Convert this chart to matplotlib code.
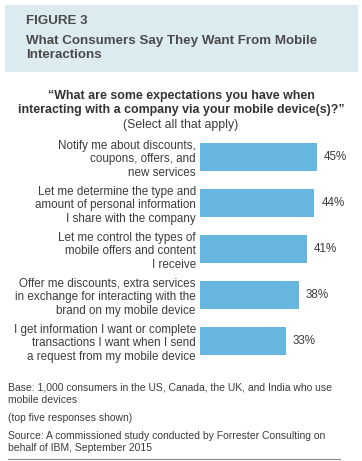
import matplotlib
matplotlib.use('Agg')
import matplotlib.pyplot as plt
import matplotlib.patches as mpatches

plt.rcParams['font.family'] = ['Liberation Sans', 'DejaVu Sans']

# ── Data ──────────────────────────────────────────────────────────────────────
categories = [
    'Notify me about discounts,\ncoupons, offers, and\nnew services',
    'Let me determine the type and\namount of personal information\nI share with the company',
    'Let me control the types of\nmobile offers and content\nI receive',
    'Offer me discounts, extra services\nin exchange for interacting with the\nbrand on my mobile device',
    'I get information I want or complete\ntransactions I want when I send\na request from my mobile device',
]
values = [45, 44, 41, 38, 33]
value_labels = [f'{v}%' for v in values]

# ── Canvas (pixel helpers) ────────────────────────────────────────────────────
W, H = 362, 461
fig = plt.figure(figsize=(W / 100, H / 100), dpi=100)

def P(x, y):
    """pixel (from top-left) -> figure fraction"""
    return x / W, 1 - y / H

TXT = '#3c3c3c'
HEAD = '#4b4b4b'
BAR = '#66b6e0'

# ── Header box ────────────────────────────────────────────────────────────────
fig.patches.append(mpatches.Rectangle(P(5, 72), 353 / W, 67 / H,
                                      transform=fig.transFigure,
                                      fc='#dcebf0', ec='none', zorder=0))
fig.text(*P(26, 21), 'FIGURE 3', fontsize=9.6, fontweight='bold',
         color=HEAD, va='center', ha='left')
fig.text(*P(26, 48), 'What Consumers Say They Want From Mobile\nInteractions',
         fontsize=9.6, fontweight='bold', color=HEAD, va='center', ha='left',
         linespacing=1.25)

# ── Question ──────────────────────────────────────────────────────────────────
fig.text(*P(181, 103), '\u201cWhat are some expectations you have when\n'
         'interacting with a company via your mobile device(s)?\u201d',
         fontsize=8.9, fontweight='bold', color='#333333', ha='center',
         va='center', linespacing=1.25)
fig.text(*P(181, 125), '(Select all that apply)', fontsize=8.8,
         color=TXT, ha='center', va='center')

# ── Bars ──────────────────────────────────────────────────────────────────────
ax = fig.add_axes([200 / W, 1 - 364 / H, 130 / W, 230 / H])
ypos = list(range(len(values)))
ax.barh(ypos, values, height=0.6, color=BAR)
ax.set_xlim(0, 50)
ax.set_ylim(len(values) - 0.5, -0.5)
ax.set_yticks(ypos)
ax.set_yticklabels(categories, fontsize=8.4, color=TXT, linespacing=1.2)
ax.tick_params(axis='y', length=0, pad=3)
ax.set_xticks([])
for s in ax.spines.values():
    s.set_visible(False)
ax.patch.set_alpha(0)
for y, v, lab in zip(ypos, values, value_labels):
    ax.annotate(lab, (v, y), xytext=(5, 0), textcoords='offset points',
                ha='left', va='center', fontsize=8.4, color=TXT)

# ── Footer ────────────────────────────────────────────────────────────────────
fig.text(*P(8, 394), 'Base: 1,000 consumers in the US, Canada, the UK, and India who use\n'
         'mobile devices', fontsize=7.45, color=TXT, ha='left', va='center',
         linespacing=1.3)
fig.text(*P(8, 418), '(top five responses shown)', fontsize=7.45, color=TXT,
         ha='left', va='center')
fig.text(*P(8, 442), 'Source: A commissioned study conducted by Forrester Consulting on\n'
         'behalf of IBM, September 2015', fontsize=7.45, color=TXT,
         ha='left', va='center', linespacing=1.3)
fig.add_artist(plt.Line2D([8 / W, 340 / W], [1 - 459 / H] * 2,
                          transform=fig.transFigure, color='#8a8a8a', lw=0.8))

fig.savefig('out.png', dpi=100, facecolor='white')
